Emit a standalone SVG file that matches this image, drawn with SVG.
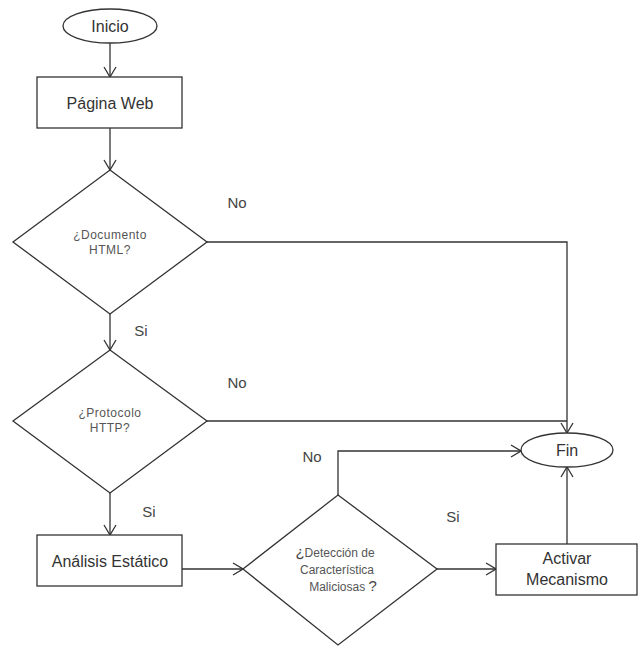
<svg xmlns="http://www.w3.org/2000/svg" width="639" height="646" viewBox="0 0 639 646">
<style>
.s{fill:#fff;stroke:#333;stroke-width:1.3}
.c{fill:none;stroke:#333;stroke-width:1.3}
.t{font-family:"Liberation Sans",Arial,sans-serif;font-size:16px;fill:#333;text-anchor:middle}
.d{font-family:"Liberation Sans",Arial,sans-serif;font-size:12px;fill:#555;text-anchor:middle;letter-spacing:0.5px}
.l{font-family:"Liberation Sans",Arial,sans-serif;font-size:15px;fill:#444;text-anchor:middle}
.b{font-size:15px;fill:#444}
</style>
<defs>
<marker id="a" markerWidth="12" markerHeight="14" refX="11" refY="7" orient="auto" markerUnits="userSpaceOnUse">
<path d="M1,1 L11,7 L1,13" fill="none" stroke="#333" stroke-width="1.3"/>
</marker>
</defs>
<rect width="639" height="646" fill="#fff"/>
<g id="connectors">
<path class="c" d="M110,43 V77" marker-end="url(#a)"/>
<path class="c" d="M110,128 V170" marker-end="url(#a)"/>
<path class="c" d="M110,314 V350" marker-end="url(#a)"/>
<path class="c" d="M207,242 H567 V433" marker-end="url(#a)"/>
<path class="c" d="M207,421 H567"/>
<path class="c" d="M110,493 V535" marker-end="url(#a)"/>
<path class="c" d="M182,569 H243" marker-end="url(#a)"/>
<path class="c" d="M338,495 V451 H521" marker-end="url(#a)"/>
<path class="c" d="M437,569 H496" marker-end="url(#a)"/>
<path class="c" d="M567,544 V467" marker-end="url(#a)"/>
<text class="l" x="237" y="208">No</text>
<text class="l" x="141" y="336">Si</text>
<text class="l" x="237" y="388">No</text>
<text class="l" x="149" y="517">Si</text>
<text class="l" x="312" y="462">No</text>
<text class="l" x="453" y="522">Si</text>
</g>
<g id="inicio">
<ellipse class="s" cx="110" cy="26" rx="47" ry="17"/>
<text class="t" x="110" y="32">Inicio</text>
</g>
<g id="pagina">
<rect class="s" x="37" y="77" width="145" height="51"/>
<text class="t" x="110" y="109">Página Web</text>
</g>
<g id="documento">
<polygon class="s" points="110,170 207,242 110,314 13,242"/>
<text class="d" x="110" y="239">¿Documento</text>
<text class="d" x="110" y="254">HTML?</text>
</g>
<g id="protocolo">
<polygon class="s" points="110,350 207,421 110,493 13,421"/>
<text class="d" x="110" y="417">¿Protocolo</text>
<text class="d" x="110" y="432">HTTP?</text>
</g>
<g id="fin">
<ellipse class="s" cx="567" cy="450" rx="46" ry="17"/>
<text class="t" x="567" y="456">Fin</text>
</g>
<g id="analisis">
<rect class="s" x="37" y="535" width="145" height="51"/>
<text class="t" x="110" y="567">Análisis Estático</text>
</g>
<g id="deteccion">
<polygon class="s" points="338,495 437,569 338,645 243,569"/>
<text class="d" x="335" y="557" style="letter-spacing:0"><tspan class="b">¿</tspan>Detección de</text>
<text class="d" x="337" y="574" style="letter-spacing:0">Característica</text>
<text class="d" x="343" y="591" style="letter-spacing:0">Maliciosas <tspan class="b">?</tspan></text>
</g>
<g id="activar">
<rect class="s" x="496" y="544" width="141" height="51"/>
<text class="t" x="567" y="564">Activar</text>
<text class="t" x="567" y="585">Mecanismo</text>
</g>
</svg>
